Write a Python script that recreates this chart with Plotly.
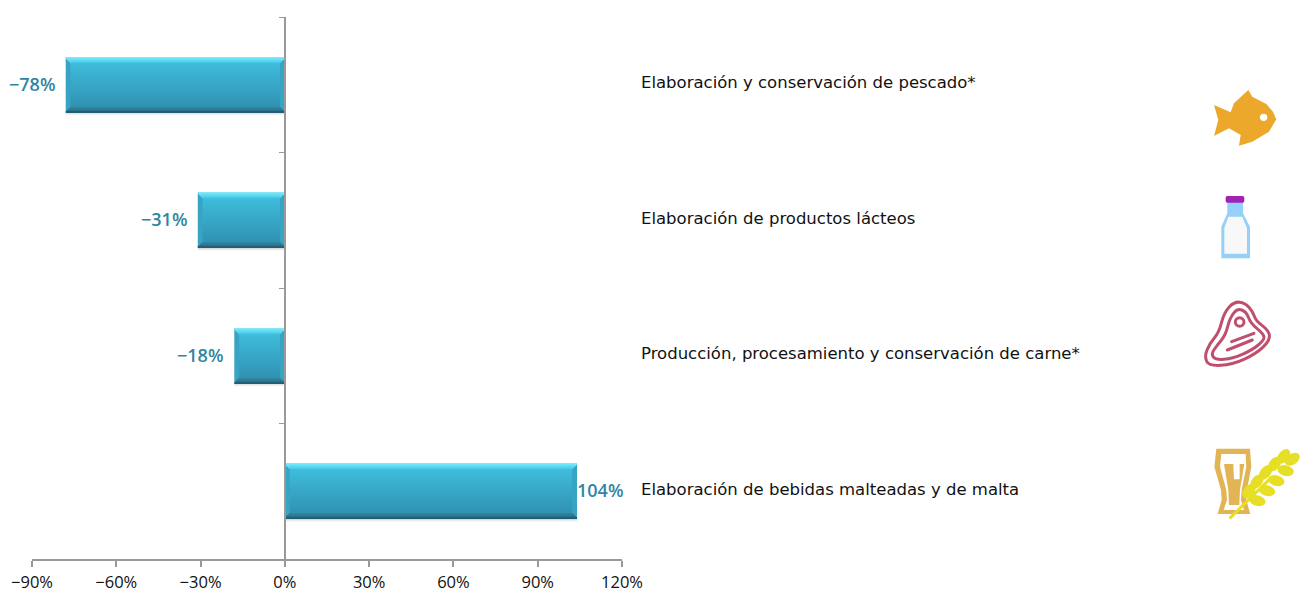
import base64
import plotly.graph_objects as go

categories = ["Elaboración y conservación de pescado*",
              "Elaboración de productos lácteos",
              "Producción, procesamiento y conservación de carne*",
              "Elaboración de bebidas malteadas y de malta"]
values = [-78, -31, -18, 104]
x_ticks = [-90, -60, -30, 0, 30, 60, 90, 120]
x_tick_labels = ["−90%", "−60%", "−30%", "0%", "30%", "60%", "90%", "120%"]

W, H = 1304, 592
L, R, T, B = 32, 622.5, 17, 559
PX_X = (R - L) / 210      # pixels per percent
PX_Y = (B - T) / 4        # pixels per category
ROWS = 55                 # bar thickness in pixels
YS = list(range(len(values)))


def lerp(a, b, t):
    return "#" + "".join(f"{round(a[i] + (b[i] - a[i]) * t):02x}" for i in range(3))


def row_colour(k):
    if k == 0:
        return "#86e6f4"
    if k < 6:
        return lerp((0x6d, 0xe6, 0xfb), (0x4c, 0xcb, 0xe8), (k - 1) / 4)
    if k < ROWS - 5:
        return lerp((0x3f, 0xbc, 0xdc), (0x31, 0x92, 0xb2), (k - 6) / (ROWS - 12))
    if k < ROWS - 1:
        return lerp((0x2f, 0x86, 0xa3), (0x2b, 0x72, 0x8b), (k - ROWS + 5) / 3)
    return "#235f73"


def band(k, inset, colour):
    """One pixel-high strip of every bar (the stack of strips forms the bevel)."""
    d = inset / PX_X
    base = [(1 if v > 0 else -1) * d for v in values]
    x = [v - (1 if v > 0 else -1) * 2 * d for v in values]
    return go.Bar(y=YS, x=x, base=base, orientation="h", width=1 / PX_Y,
                  offset=(k - ROWS / 2) / PX_Y, marker=dict(color=colour, line_width=0),
                  hoverinfo="skip", showlegend=False)


fig = go.Figure()
# soft shadow below and the body colour seen in the side bevels
for k, alpha in ((ROWS + 2, .06), (ROWS + 1, .12), (ROWS, .22)):
    fig.add_trace(band(k, 0, f"rgba(60,60,60,{alpha})"))
fig.add_trace(go.Bar(y=YS, x=values, orientation="h", width=ROWS / PX_Y,
                     offset=-ROWS / 2 / PX_Y, marker=dict(color="#38a4c4", line_width=0),
                     hoverinfo="skip", showlegend=False))
for k in range(ROWS):
    fig.add_trace(band(k, min(k, ROWS - 1 - k, 5), row_colour(k)))


def smooth(pts):
    n = len(pts)
    mid = lambda a, b: ((a[0] + b[0]) / 2, (a[1] + b[1]) / 2)
    s = mid(pts[-1], pts[0])
    d = f"M{s[0]} {s[1]}"
    for i in range(n):
        m = mid(pts[i], pts[(i + 1) % n])
        d += f"Q{pts[i][0]} {pts[i][1]} {m[0]} {m[1]}"
    return d + "Z"


def poly(pts):
    return "M" + "L".join(f"{x} {y}" for x, y in pts) + "Z"


def icon(px, py, w, h, body):
    svg = (f'<svg xmlns="http://www.w3.org/2000/svg" width="{w*3}" height="{h*3}" '
           f'viewBox="0 0 {w*3} {h*3}"><defs><filter id="b"><feGaussianBlur stdDeviation="2"/></filter></defs>'
           f'<g filter="url(#b)">{body}</g></svg>')
    return dict(source="data:image/svg+xml;base64," + base64.b64encode(svg.encode()).decode(),
                xref="paper", yref="paper", x=(px - L) / (R - L), y=(B - py) / (B - T),
                sizex=w / (R - L), sizey=h / (B - T), xanchor="left", yanchor="top",
                sizing="stretch", layer="above")


fish = poly([(75, 75), (125, 97), (135, 70), (178, 30), (190, 50), (232, 72), (252, 95), (262, 118),
             (240, 155), (190, 185), (150, 197), (155, 165), (120, 145), (75, 168), (88, 120)])
fish_svg = f'<path d="{fish}" fill="#eba82c"/><circle cx="224" cy="112" r="11" fill="#fff"/>'

bottle_svg = (
    f'<path d="{poly([(115,365),(115,400),(97,440),(97,535),(183,535),(183,440),(162,400),(162,365)])}" fill="#94d0fa"/>'
    f'<path d="{poly([(118,410),(160,410),(174,445),(174,521),(106,521),(106,445)])}" fill="#f8f8f8"/>'
    '<rect x="110" y="348" width="56" height="20" rx="5" fill="#a123b4"/>'
)

meat_outer = [(46, 200), (62, 160), (90, 128), (105, 68), (135, 35), (168, 38), (192, 65), (200, 92),
              (240, 122), (243, 152), (200, 192), (130, 224), (60, 228)]
meat_inner = [(66, 192), (85, 165), (110, 135), (122, 85), (145, 55), (172, 65), (185, 100),
              (224, 132), (226, 150), (190, 180), (130, 206), (80, 210)]
meat_svg = (
    f'<g fill="none" stroke="#c0506e" stroke-width="9" stroke-linecap="round">'
    f'<path d="{smooth(meat_outer)}"/><path d="{smooth(meat_inner)}"/>'
    '<circle cx="152" cy="96" r="13"/>'
    '<path d="M128 155L195 130M115 180L190 150"/></g>'
)

glass = poly([(82, 476), (183, 476), (187, 530), (174, 600), (172, 630), (184, 672), (86, 672), (98, 630),
              (96, 600), (76, 530)])
glass_in = poly([(97, 492), (170, 492), (172, 530), (158, 600), (156, 630), (165, 660), (104, 660), (114, 630),
                 (112, 600), (93, 530)])
beer = poly([(105, 522), (133, 522), (135, 568), (152, 568), (152, 522), (166, 522), (153, 600), (151, 645),
             (120, 645), (118, 600)])
wheat = ""
for cx, cy, a in [(180, 603, -50), (204, 575, -50), (230, 547, -50), (257, 522, -50), (284, 499, -50),
                  (205, 632, 15), (234, 602, 15), (262, 572, 15), (290, 542, 15), (310, 508, -35)]:
    wheat += f'<ellipse cx="{cx}" cy="{cy}" rx="25" ry="16" transform="rotate({a} {cx} {cy})" fill="#e6df26"/>'
beer_svg = (
    f'<path d="{glass}" fill="#e3b455"/><path d="{glass_in}" fill="#fff"/><path d="{beer}" fill="#e3b455"/>'
    f'<path d="M122 685L250 560" stroke="#e6df26" stroke-width="9"/>{wheat}'
)

annotations = []
for i, (c, v) in enumerate(zip(categories, values)):
    annotations.append(dict(xref="paper", yref="y", x=(640 - L) / (R - L), y=i, yshift=2, text=c,
                            showarrow=False, xanchor="left",
                            font=dict(family="DejaVu Sans", size=16.5, color="#111111")))
    label = f"{v}%".replace("-", "−")
    annotations.append(dict(xref="x", yref="y", x=v, y=i, yshift=1, text=label, showarrow=False,
                            xanchor="left" if v > 0 else "right", xshift=-2 if v > 0 else -9,
                            font=dict(family="Open Sans", size=18, weight=600, color="#2f86a3")))

axis_col = "#999999"
fig.update_layout(
    width=W, height=H, autosize=False, barmode="overlay", showlegend=False,
    margin=dict(l=L, r=W - R, t=T, b=H - B, pad=0),
    paper_bgcolor="white", plot_bgcolor="white",
    xaxis=dict(range=[-90, 120], tickvals=x_ticks, ticktext=x_tick_labels, showgrid=False, zeroline=False,
               automargin=False, showline=True, linecolor=axis_col, linewidth=1.5, ticks="outside", ticklen=6,
               tickcolor=axis_col, tickwidth=1.5, ticklabelstandoff=1,
               tickfont=dict(family="Open Sans", size=16.5, color="#111111")),
    yaxis=dict(range=[3.5, -0.5], tickvals=[-0.5, 0.5, 1.5, 2.5, 3.5], showticklabels=False, showgrid=False,
               automargin=False, zeroline=False, showline=True, linecolor=axis_col, linewidth=1.5,
               ticks="outside", ticklen=5, tickcolor=axis_col, tickwidth=1, anchor="free", position=90 / 210),
    annotations=annotations,
    images=[icon(1190, 80, 114, 190, fish_svg + bottle_svg), icon(1190, 290, 114, 240, meat_svg + beer_svg)],
)

fig.write_html("out.html", config=dict(displayModeBar=False),
               post_script="document.body.style.margin='0';")
